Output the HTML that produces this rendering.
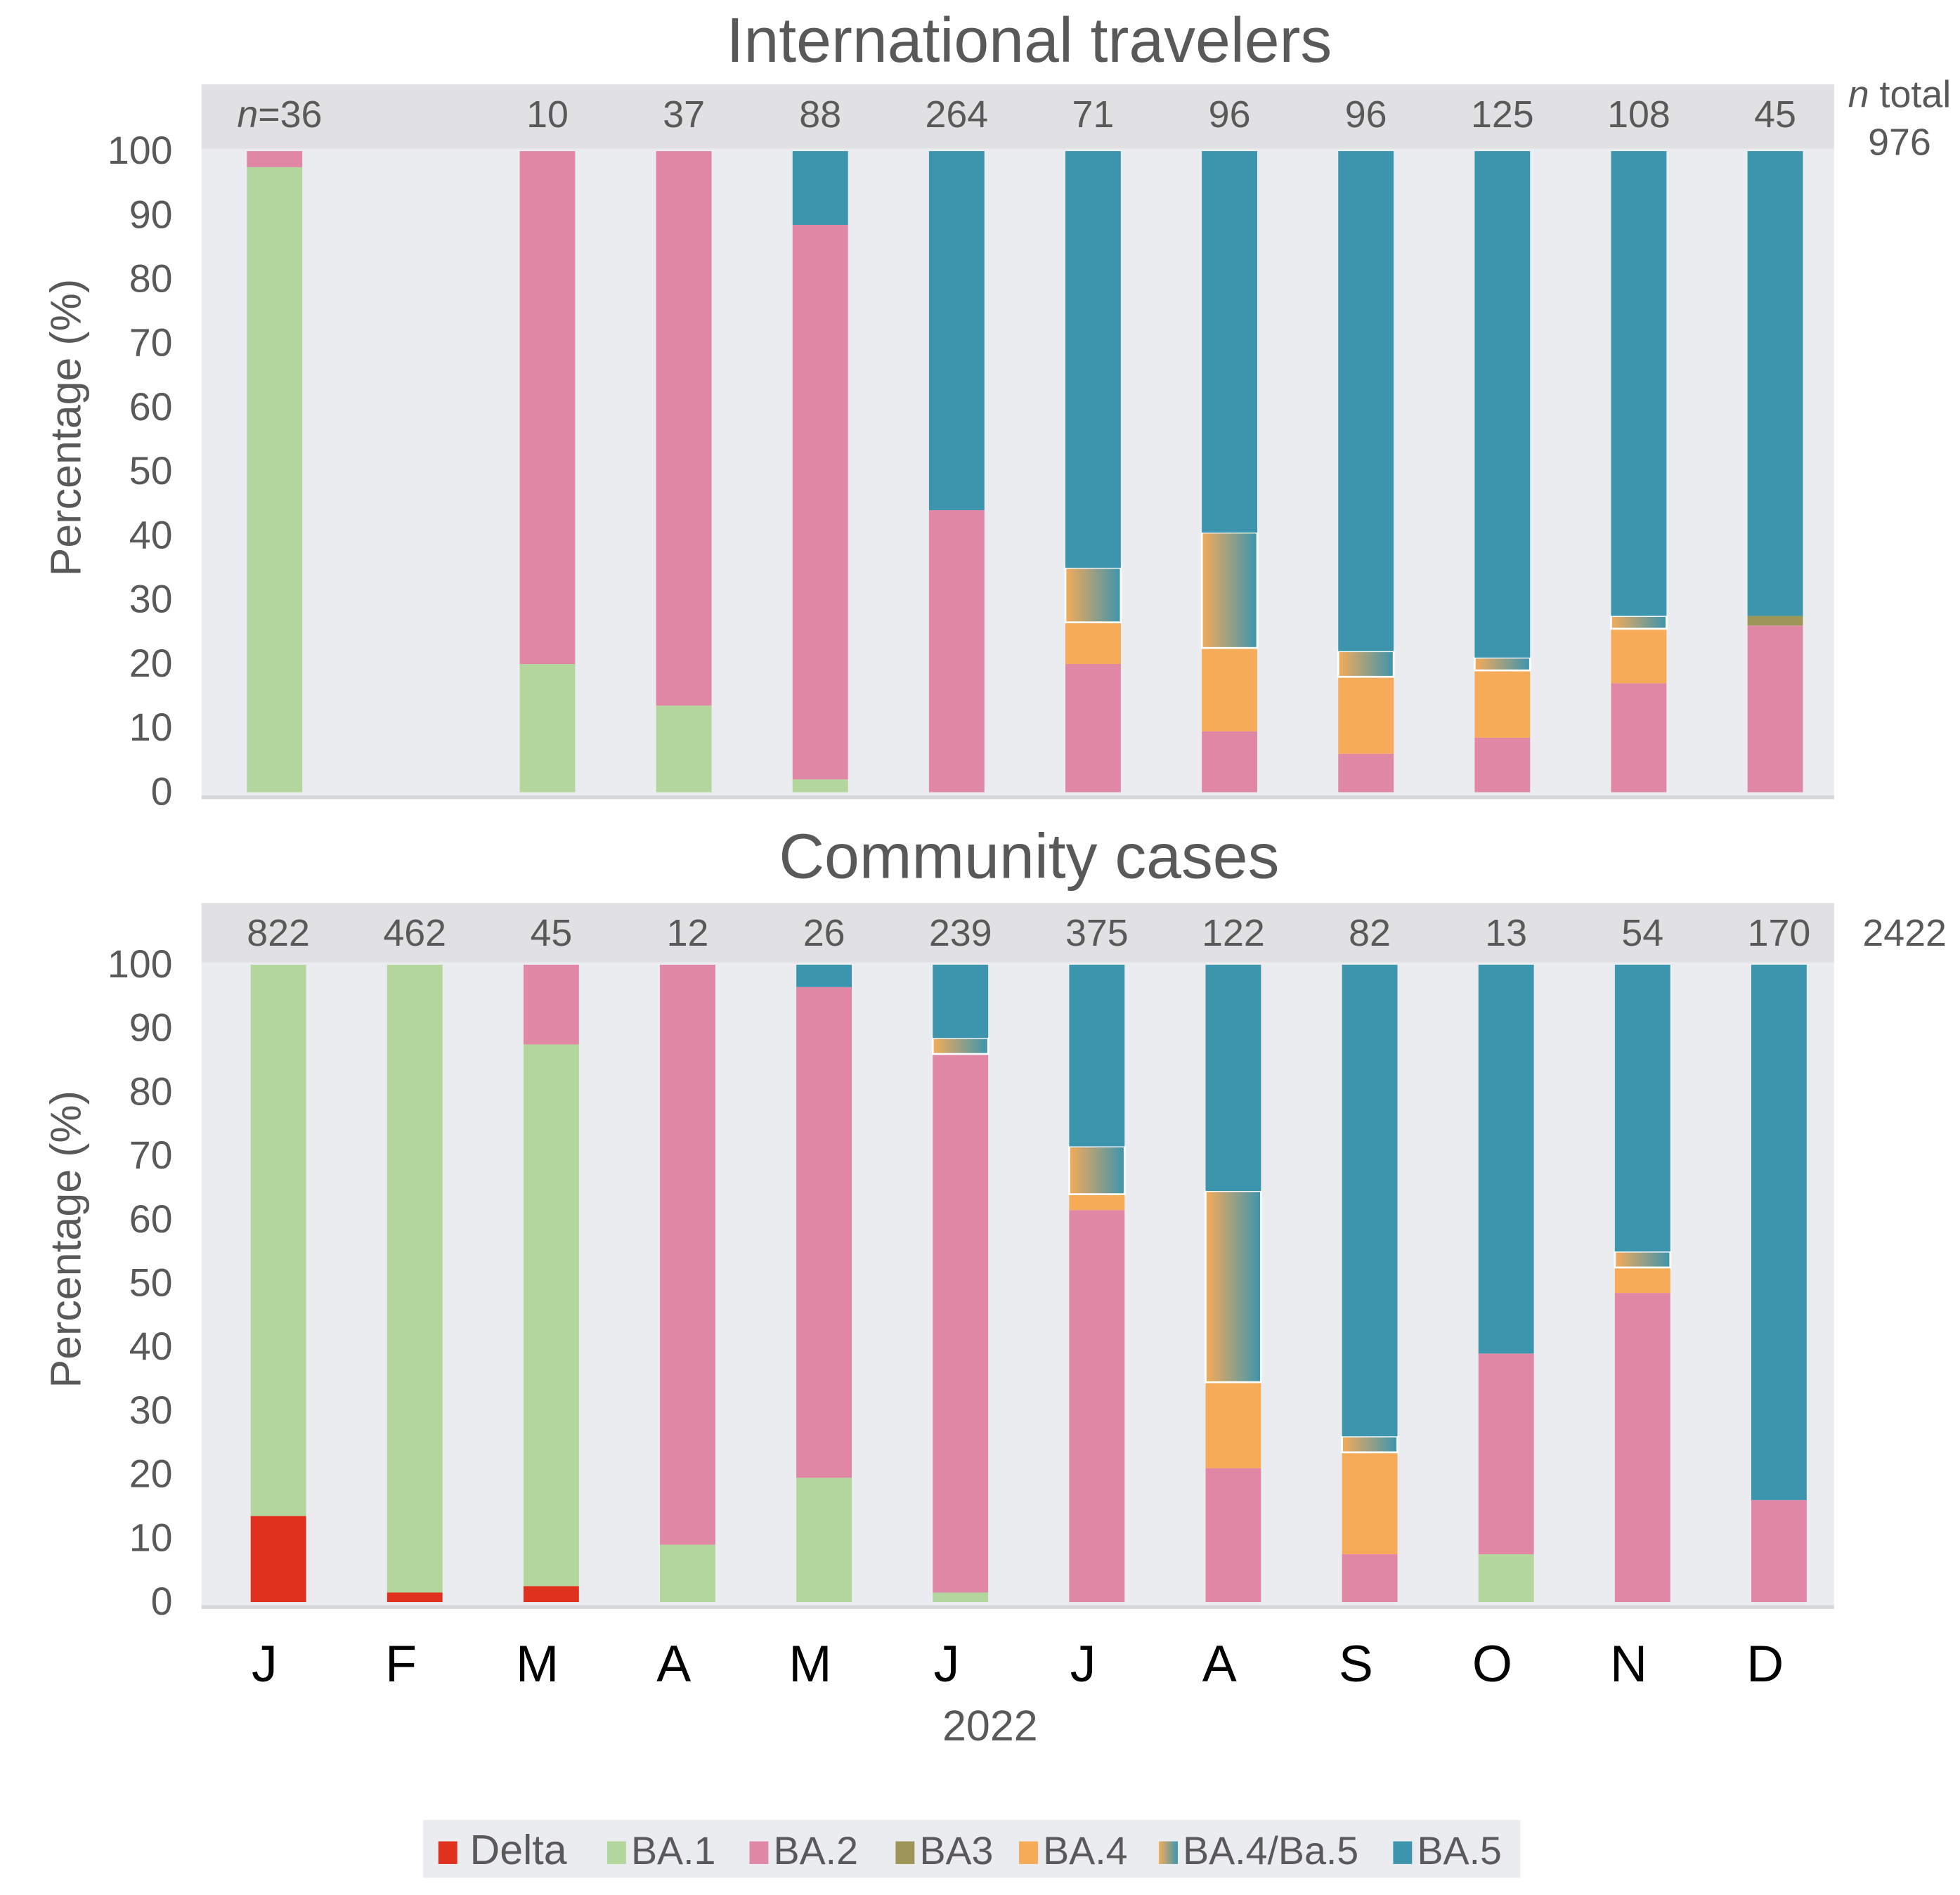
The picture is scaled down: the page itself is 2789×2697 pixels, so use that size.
<!DOCTYPE html>
<html><head><meta charset="utf-8"><style>html,body{margin:0;padding:0;background:#fff}svg{display:block}text{font-family:"Liberation Sans",sans-serif;fill:#595959}</style></head>
<body>
<svg id="chart" width="2789" height="2697" viewBox="0 0 1556 1504.6" preserveAspectRatio="none" xmlns="http://www.w3.org/2000/svg">
<defs><linearGradient id="g45" x1="0" x2="1" y1="0" y2="0"><stop offset="0" stop-color="#f5ab58"/><stop offset="1" stop-color="#3c95ad"/></linearGradient></defs>
</svg>
<script>
const months = ["J","F","M","A","M","J","J","A","S","O","N","D"];
const variants = ["Delta","BA.1","BA.2","BA3","BA.4","BA.4/Ba.5","BA.5"];
const travN = ["n=36","","10","37","88","264","71","96","96","125","108","45"];
const commN = ["822","462","45","12","26","239","375","122","82","13","54","170"];
const travDelta=[0,0,0,0,0,0,0,0,0,0,0,0];
const travBA1=[97.5,0,20,13.5,2,0,0,0,0,0,0,0];
const travBA2=[2.5,0,80,86.5,86.5,44,20,9.5,6,8.5,17,26];
const travBA3=[0,0,0,0,0,0,0,0,0,0,0,1.5];
const travBA4=[0,0,0,0,0,0,6.5,13,12,10.5,8.5,0];
const travBA45=[0,0,0,0,0,0,8.5,18,4,2,2,0];
const travBA5=[0,0,0,0,11.5,56,65,59.5,78,79,72.5,72.5];
const commDelta=[13.5,1.5,2.5,0,0,0,0,0,0,0,0,0];
const commBA1=[86.5,98.5,85,9,19.5,1.5,0,0,0,7.5,0,0];
const commBA2=[0,0,12.5,91,77,84.5,61.5,21,7.5,31.5,48.5,16];
const commBA3=[0,0,0,0,0,0,0,0,0,0,0,0];
const commBA4=[0,0,0,0,0,0,2.5,13.5,16,0,4,0];
const commBA45=[0,0,0,0,0,2.5,7.5,30,2.5,0,2.5,0];
const commBA5=[0,0,0,0,3.5,11.5,28.5,35.5,74,61,45,84];
const yTicks=[0,10,20,30,40,50,60,70,80,90,100];
const colors=["#e0301e","#b3d69c","#e087a6","#9c9557","#f5ab58","url(#g45)","#3c95ad"];
const NS="http://www.w3.org/2000/svg";
const svg=document.getElementById("chart");
function el(tag,attrs,txt){const e=document.createElementNS(NS,tag);for(const k in attrs)e.setAttribute(k,attrs[k]);if(txt!==undefined)e.textContent=txt;svg.appendChild(e);return e;}
function xc(i,first){return first+i*108.3;}
function panel(p){
  const yS=v=>p.y0-(v/100)*(p.y0-p.y100);
  const bg=el("rect",{x:160,y:p.bandTop,width:1296,height:p.y0+4-p.bandTop,fill:"#ebecef"});
  
  
  const band=el("rect",{x:160,y:p.bandTop,width:1296,height:p.y100-p.bandTop-2,fill:"#e1e1e3"});
  
  
  const base=el("line",{x1:160,x2:1456,y1:p.y0+4,y2:p.y0+4,stroke:"#d6d7da","stroke-width":3});
  
  
  const t=el("text",{x:817,y:p.titleY,"text-anchor":"middle","font-size":50},p.title);
  
  
  yTicks.forEach(v=>{const tk=el("text",{x:137,y:yS(v)+10,"text-anchor":"end","font-size":31},String(v));
    
    });
  const yt=el("text",{x:0,y:0,"text-anchor":"middle","font-size":34,transform:`translate(64,${(p.y0+p.y100)/2 - 35}) rotate(-90)`},"Percentage (%)");
  
  
  months.forEach((m,i)=>{
    const cx=xc(i,p.first);let cum=0;
    p.series.forEach((s,k)=>{const v=s[i];if(v<=0)return;
      const top=yS(cum+v),bot=yS(cum);cum+=v;
      const r=el("rect",{x:cx-22,y:top,width:44,height:bot-top,fill:colors[k]});
      if(k===5){r.setAttribute("stroke","#fff");r.setAttribute("stroke-width","1.5");}
      
      });
    const lab=p.n[i];if(lab){
      let nt;
      if(lab.startsWith("n=")){nt=el("text",{x:cx+4,y:p.bandTop+34,"text-anchor":"middle","font-size":30});
        const a=document.createElementNS(NS,"tspan");a.setAttribute("font-style","italic");a.textContent="n";nt.appendChild(a);
        const b=document.createElementNS(NS,"tspan");b.textContent="="+lab.slice(2);nt.appendChild(b);}
      else nt=el("text",{x:cx,y:p.bandTop+34,"text-anchor":"middle","font-size":30},lab);
      
      }
  });
}
panel({key:"travelers",title:"International travelers",titleY:49,bandTop:67,y100:120,y0:629,first:218,n:travN,
 series:[travDelta,travBA1,travBA2,travBA3,travBA4,travBA45,travBA5]});
panel({key:"community",title:"Community cases",titleY:697,bandTop:717,y100:766,y0:1272,first:221,n:commN,
 series:[commDelta,commBA1,commBA2,commBA3,commBA4,commBA45,commBA5]});
let e;
e=el("text",{x:1508,y:85,"text-anchor":"middle","font-size":30});
const it=document.createElementNS(NS,"tspan");it.setAttribute("font-style","italic");it.textContent="n";e.appendChild(it);
const rt=document.createElementNS(NS,"tspan");rt.textContent=" total";e.appendChild(rt);


e=el("text",{x:1508,y:123,"text-anchor":"middle","font-size":30},"976");


e=el("text",{x:1512,y:751,"text-anchor":"middle","font-size":30},"2422");


months.forEach((m,i)=>{const t=el("text",{x:xc(i,210),y:1335,"text-anchor":"middle","font-size":41,style:"fill:#000"},m);
  
  });
e=el("text",{x:786,y:1382,"text-anchor":"middle","font-size":34},"2022");


e=el("rect",{x:336,y:1445,width:871,height:46,fill:"#ebecef"});


const legX=[348,482,595,711,809,920,1106];
variants.forEach((v,k)=>{
  const r=el("rect",{x:legX[k],y:1462,width:15,height:18,fill:colors[k]});
  
  
  const t=el("text",{x:legX[k]+(k===0?25:19),y:1480,"font-size":k===0?33:31},v);
  
  
});
</script>
</body></html>
